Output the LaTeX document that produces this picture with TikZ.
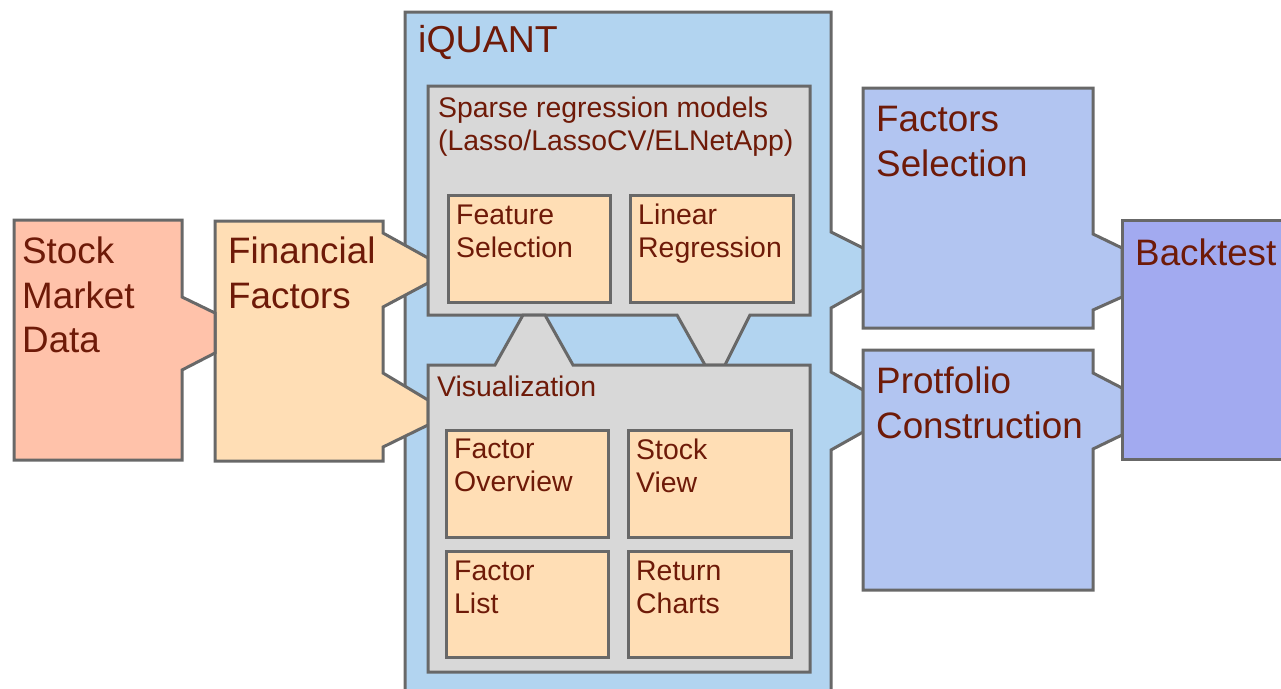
\documentclass[tikz,border=0pt]{standalone}
\usepackage{fontspec}
\setmainfont{Liberation Sans}
\definecolor{txt}{HTML}{6E1A08}
\definecolor{bordc}{HTML}{686868}
\definecolor{salmon}{HTML}{FFC2AA}
\definecolor{peach}{HTML}{FFDEB5}
\definecolor{skyb}{HTML}{B2D4F0}
\definecolor{grayb}{HTML}{D8D8D8}
\definecolor{periw}{HTML}{B2C5F1}
\definecolor{lavb}{HTML}{A2AAF0}
\tikzset{
  shapeline/.style={draw=bordc, line width=3pt, line join=miter},
  bigtxt/.style={anchor=north west, inner sep=0pt, align=left, text=txt,
    font=\fontsize{36.8}{44.5}\selectfont},
  smalltxt/.style={anchor=north west, inner sep=0pt, align=left, text=txt,
    font=\fontsize{28.4}{33}\selectfont},
  titletxt/.style={anchor=north west, inner sep=0pt, align=left, text=txt,
    font=\fontsize{37.5}{44}\selectfont},
}
\begin{document}
\begin{tikzpicture}[x=1pt,y=-1pt]
\useasboundingbox (0,0) rectangle (1281,688);
% iQUANT container
\path[shapeline, fill=skyb] (405,12) -- (831,12) -- (831,232) -- (863,248) -- (863,290) -- (831,308)
  -- (831,372) -- (863,390) -- (863,432) -- (831,450) -- (831,710) -- (405,710) -- cycle;
% Financial Factors
\path[shapeline, fill=peach] (215,221) -- (383,221) -- (383,233) -- (428,258) -- (428,283) -- (383,307)
  -- (383,373) -- (428,400) -- (428,425) -- (383,447) -- (383,461) -- (215,461) -- cycle;
% Stock Market Data
\path[shapeline, fill=salmon] (14,220) -- (182,220) -- (182,297) -- (215,313) -- (215,353) -- (182,370)
  -- (182,460) -- (14,460) -- cycle;
% Sparse regression models
\path[shapeline, fill=grayb] (428,86) -- (810,86) -- (810,315) -- (750,315) -- (725,365) -- (705,365)
  -- (677,315) -- (428,315) -- cycle;
% Visualization
\path[shapeline, fill=grayb] (428,365) -- (495,365) -- (523,315) -- (545,315) -- (573,365) -- (810,365)
  -- (810,672) -- (428,672) -- cycle;
% inner boxes
\path[shapeline, fill=peach] (448,195) rectangle (610,302);
\path[shapeline, fill=peach] (630,195) rectangle (793,302);
\path[shapeline, fill=peach] (446,430) rectangle (608,537);
\path[shapeline, fill=peach] (628,430) rectangle (791,537);
\path[shapeline, fill=peach] (446,551) rectangle (608,657);
\path[shapeline, fill=peach] (628,551) rectangle (791,657);
% Factors Selection
\path[shapeline, fill=periw] (863,88) -- (1093,88) -- (1093,234) -- (1122,248) -- (1122,297) -- (1093,310)
  -- (1093,328) -- (863,328) -- cycle;
% Protfolio Construction
\path[shapeline, fill=periw] (863,350) -- (1093,350) -- (1093,373) -- (1122,388) -- (1122,435) -- (1093,449)
  -- (1093,590) -- (863,590) -- cycle;
% Backtest
\path[shapeline, fill=lavb] (1122,220) -- (1310,220) -- (1310,459) -- (1122,459) -- cycle;

% texts
\node[titletxt] (iquant) at (418,25) {iQUANT};
\node[bigtxt] (stock) at (22,237) {Stock\\Market\\Data};
\node[bigtxt] (fin) at (228,237) {Financial\\Factors};
\node[smalltxt] (sparse) at (438,97) {Sparse regression models\\(Lasso/LassoCV/ELNetApp)};
\node[smalltxt] (feat) at (456,205) {Feature\\Selection};
\node[smalltxt] (linreg) at (638,204) {Linear\\Regression};
\node[smalltxt] (vis) at (437,376) {Visualization};
\node[smalltxt] (fover) at (454,439) {Factor\\Overview};
\node[smalltxt] (sview) at (636,439) {Stock\\View};
\node[smalltxt] (flist) at (454,561) {Factor\\List};
\node[smalltxt] (rchart) at (636,561) {Return\\Charts};
\node[bigtxt] (fsel) at (876,106) {Factors\\Selection};
\node[bigtxt] (pcons) at (876,367) {Protfolio\\Construction};
\node[bigtxt] (back) at (1135,239) {Backtest};
\end{tikzpicture}
\end{document}
